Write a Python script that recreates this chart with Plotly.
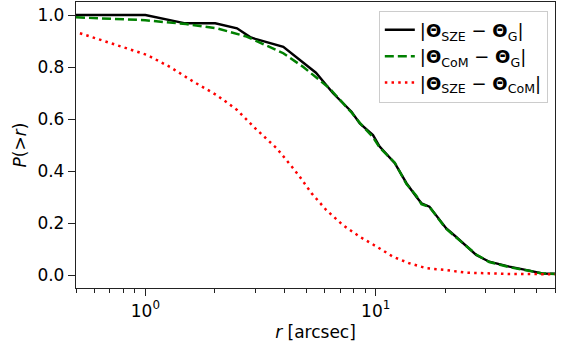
import plotly.graph_objects as go

# --- data ---
r_sze_g = [0.5, 1.0, 1.49, 2.01, 2.5, 2.85, 3.0, 3.97, 5.5, 6.53, 7.85, 8.53, 9.73, 10.4,
           12.1, 13.6, 15.0, 15.8, 17.1, 18.9, 20.2, 22.3, 27.3, 31.1, 38.0, 46.4, 52.8, 60.0]
p_sze_g = [1.0, 1.0, 0.968, 0.968, 0.949, 0.915, 0.908, 0.878, 0.778, 0.699, 0.628, 0.583,
           0.538, 0.494, 0.43, 0.353, 0.301, 0.276, 0.263, 0.212, 0.18, 0.147, 0.077, 0.051,
           0.032, 0.017, 0.006, 0.005]

r_com_g = [0.5, 1.0, 1.5, 2.04, 2.75, 3.97, 4.85, 6.3, 7.85, 8.53, 9.73, 10.4,
           12.1, 13.6, 15.0, 15.8, 17.1, 18.9, 20.2, 22.3, 27.3, 31.1, 38.0, 46.4, 52.8, 60.0]
p_com_g = [0.991, 0.98, 0.965, 0.949, 0.917, 0.853, 0.80, 0.718, 0.625, 0.585,
           0.53, 0.49, 0.432, 0.35, 0.305, 0.272, 0.262, 0.21, 0.178, 0.145, 0.079, 0.05,
           0.03, 0.016, 0.006, 0.004]

r_sze_com = [0.52, 0.78, 1.02, 1.28, 1.62, 2.04, 2.5, 3.05, 3.72, 4.32, 4.68, 5.27, 6.1,
             7.2, 8.53, 10.1, 11.9, 14.0, 16.6, 20.2, 24.6, 38.0, 60.0]
p_sze_com = [0.93, 0.878, 0.846, 0.80, 0.743, 0.692, 0.635, 0.558, 0.487, 0.417, 0.378,
             0.314, 0.25, 0.192, 0.147, 0.109, 0.07, 0.045, 0.026, 0.019, 0.009, 0.004, 0.003]

labels = ["|<b>Θ</b><sub>SZE</sub> − <b>Θ</b><sub>G</sub>|",
          "|<b>Θ</b><sub>CoM</sub> − <b>Θ</b><sub>G</sub>|",
          "|<b>Θ</b><sub>SZE</sub> − <b>Θ</b><sub>CoM</sub>|"]

major_x = [1, 10]
major_x_text = ["10<sup>0</sup>", "10<sup>1</sup>"]
minor_x = [0.5, 0.6, 0.7, 0.8, 0.9, 2, 3, 4, 5, 6, 7, 8, 9, 20, 30, 40, 50, 60]
y_ticks = [0.0, 0.2, 0.4, 0.6, 0.8, 1.0]

font = "DejaVu Sans"
fs = 17

fig = go.Figure()
fig.add_trace(go.Scatter(x=r_sze_g, y=p_sze_g, mode="lines", name=labels[0],
                         line=dict(color="black", width=2.4)))
fig.add_trace(go.Scatter(x=r_com_g, y=p_com_g, mode="lines", name=labels[1],
                         line=dict(color="green", width=2.5, dash="9px,4px")))
fig.add_trace(go.Scatter(x=r_sze_com, y=p_sze_com, mode="lines", name=labels[2],
                         line=dict(color="red", width=2.5, dash="2.5px,4.2px")))

fig.update_layout(
    width=574, height=347,
    margin=dict(l=76, r=19, t=2, b=59),
    paper_bgcolor="white", plot_bgcolor="white",
    font=dict(family=font, size=fs, color="black"),
    showlegend=True,
    legend=dict(x=0.985, y=0.97, xanchor="right", yanchor="top",
                bgcolor="rgba(255,255,255,0.9)", bordercolor="#cccccc", borderwidth=1,
                font=dict(family=font, size=18), tracegroupgap=0, itemwidth=30),
    xaxis=dict(type="log", range=[-0.30103, 1.778151], showgrid=False, zeroline=False,
               showline=True, linecolor="#222", linewidth=1.3, mirror=True,
               ticks="outside", ticklen=7, tickwidth=1.2, tickcolor="#222",
               tickmode="array", tickvals=major_x, ticktext=major_x_text,
               minor=dict(tickmode="array", tickvals=minor_x, ticks="outside",
                          ticklen=4, tickwidth=1, tickcolor="#222", showgrid=False),
               title=dict(text="<i>r</i> [arcsec]", standoff=6, font=dict(size=fs))),
    yaxis=dict(range=[-0.05, 1.05], showgrid=False, zeroline=False,
               showline=True, linecolor="#222", linewidth=1.3, mirror=True,
               ticks="outside", ticklen=7, tickwidth=1.2, tickcolor="#222",
               tickmode="array", tickvals=y_ticks, tickformat=".1f",
               title=dict(text="<i>P</i>(&gt;<i>r</i>)", standoff=6, font=dict(size=fs))),
)

fig.write_html("out.html", config={"displayModeBar": False},
               post_script="document.body.style.margin='0';document.body.style.overflow='hidden';")
